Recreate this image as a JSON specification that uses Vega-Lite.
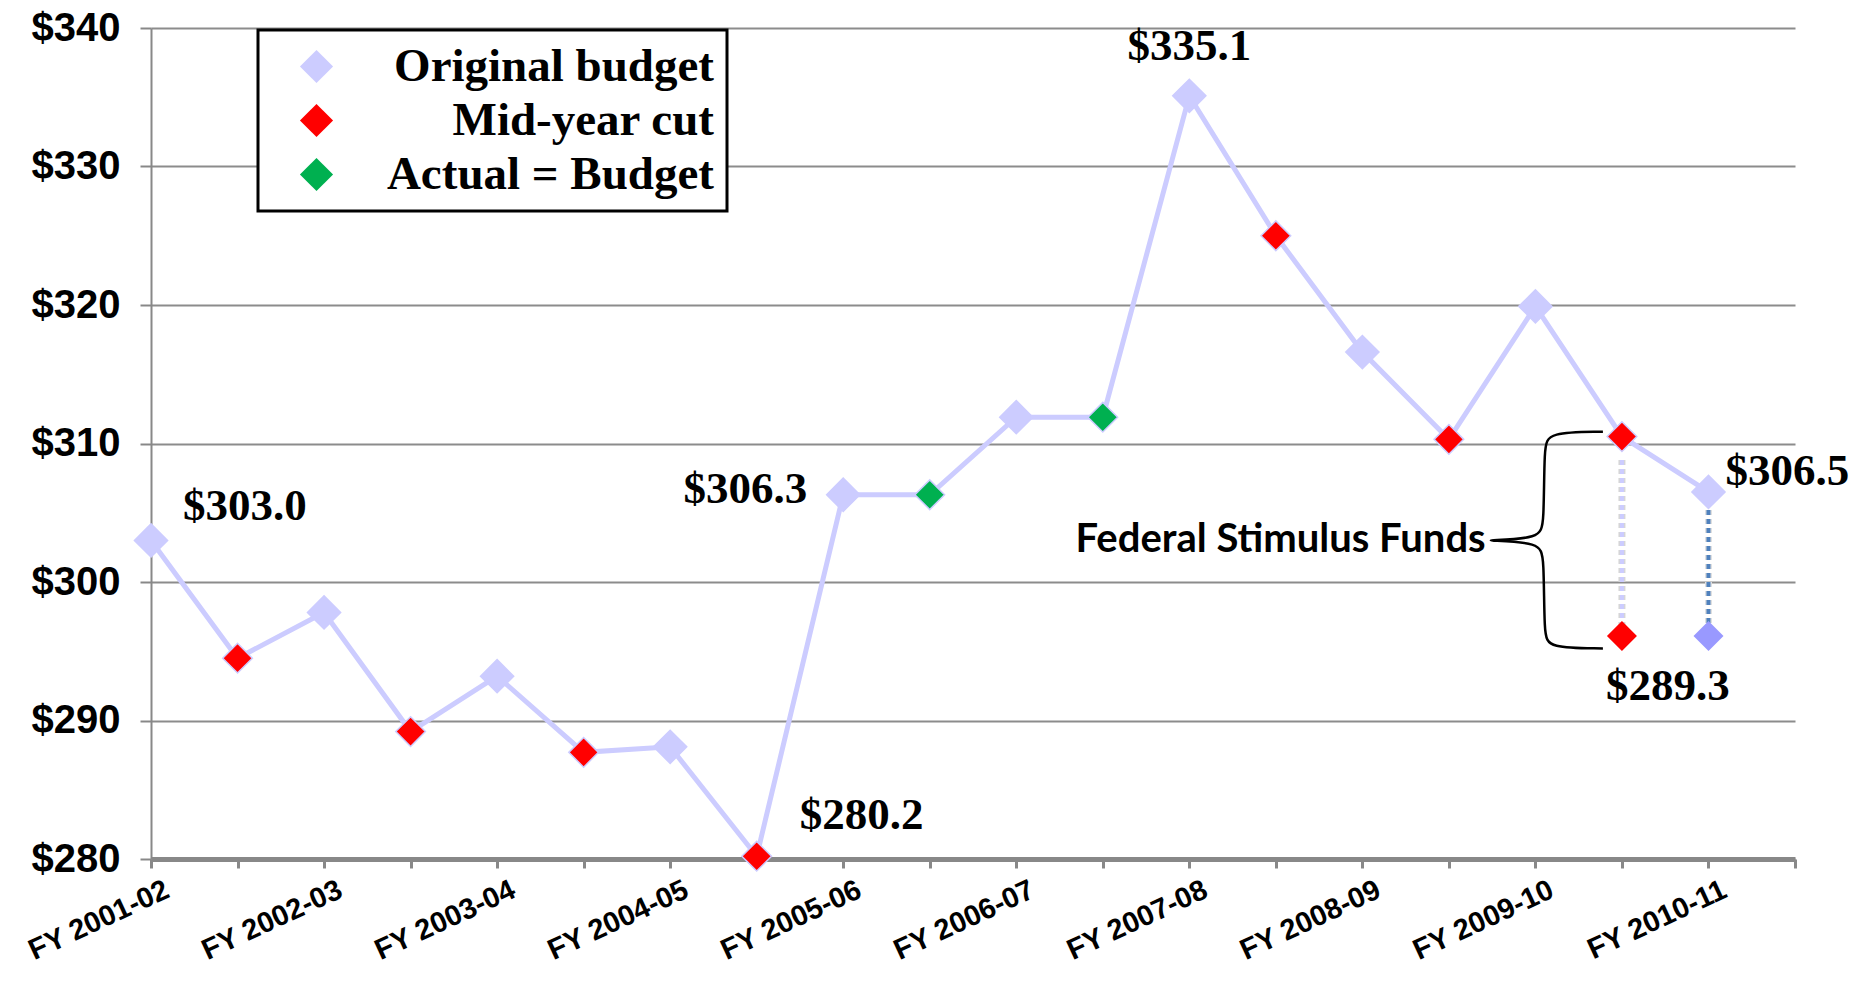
{
  "$schema": "https://vega.github.io/schema/vega-lite/v6.json",
  "width": 1644,
  "height": 831,
  "autosize": {"type": "none"},
  "padding": {"left": 151, "top": 28, "right": 60, "bottom": 125},
  "background": "white",
  "config": {
    "view": {"stroke": null},
    "legend": {"strokeWidth": 3}
  },
  "datasets": {
    "main": [
      {"pos": 1, "value": 303.0, "series": "Original budget"},
      {"pos": 2, "value": 294.5, "series": "Mid-year cut"},
      {"pos": 3, "value": 297.8, "series": "Original budget"},
      {"pos": 4, "value": 289.2, "series": "Mid-year cut"},
      {"pos": 5, "value": 293.2, "series": "Original budget"},
      {"pos": 6, "value": 287.7, "series": "Mid-year cut"},
      {"pos": 7, "value": 288.1, "series": "Original budget"},
      {"pos": 8, "value": 280.2, "series": "Mid-year cut"},
      {"pos": 9, "value": 306.3, "series": "Original budget"},
      {"pos": 10, "value": 306.3, "series": "Actual = Budget"},
      {"pos": 11, "value": 311.9, "series": "Original budget"},
      {"pos": 12, "value": 311.9, "series": "Actual = Budget"},
      {"pos": 13, "value": 335.1, "series": "Original budget"},
      {"pos": 14, "value": 325.0, "series": "Mid-year cut"},
      {"pos": 15, "value": 316.6, "series": "Original budget"},
      {"pos": 16, "value": 310.3, "series": "Mid-year cut"},
      {"pos": 17, "value": 319.9, "series": "Original budget"},
      {"pos": 18, "value": 310.5, "series": "Mid-year cut"},
      {"pos": 19, "value": 306.5, "series": "Original budget"}
    ],
    "stim": [
      {"pos": 18, "value": 296.1, "kind": "cut", "top": 308.8, "bottom": 296.9},
      {"pos": 19, "value": 296.1, "kind": "budget", "top": 305.2, "bottom": 297.0}
    ],
    "labels": [
      {"pos": 1, "value": 303.0, "label": "$303.0", "grp": "a"},
      {"pos": 8, "value": 280.2, "label": "$280.2", "grp": "b"},
      {"pos": 9, "value": 306.3, "label": "$306.3", "grp": "c"},
      {"pos": 13, "value": 335.1, "label": "$335.1", "grp": "d"},
      {"pos": 19, "value": 306.5, "label": "$306.5", "grp": "e"},
      {"pos": 18, "value": 296.1, "label": "$289.3", "grp": "f"}
    ],
    "brace": [
      {"o": 1, "bx": 17.78, "by": 310.85},
      {"o": 2, "bx": 17.15, "by": 310.8},
      {"o": 3, "bx": 17.1, "by": 309.8},
      {"o": 4, "bx": 17.1, "by": 304.2},
      {"o": 5, "bx": 17.05, "by": 303.15},
      {"o": 6, "bx": 16.46, "by": 303.0},
      {"o": 7, "bx": 16.46, "by": 303.0},
      {"o": 8, "bx": 17.05, "by": 302.85},
      {"o": 9, "bx": 17.1, "by": 301.8},
      {"o": 10, "bx": 17.1, "by": 296.2},
      {"o": 11, "bx": 17.15, "by": 295.25},
      {"o": 12, "bx": 17.78, "by": 295.2}
    ],
    "note": [
      {"pos": 16.46, "value": 303.0, "label": "Federal Stimulus Funds"}
    ]
  },
  "encoding": {
    "x": {
      "field": "pos", "type": "quantitative",
      "scale": {"domain": [1, 20], "nice": false, "zero": false},
      "axis": {
        "values": [1,2,3,4,5,6,7,8,9,10,11,12,13,14,15,16,17,18,19,20],
        "labelExpr": "['', 'FY 2001-02', '', 'FY 2002-03', '', 'FY 2003-04', '', 'FY 2004-05', '', 'FY 2005-06', '', 'FY 2006-07', '', 'FY 2007-08', '', 'FY 2008-09', '', 'FY 2009-10', '', 'FY 2010-11', ''][datum.value]",
        "labelAngle": -25,
        "labelAlign": "right",
        "labelBaseline": "top",
        "labelFont": "Liberation Sans",
        "labelFontWeight": "bold",
        "labelFontSize": 29,
        "labelColor": "black",
        "labelPadding": 7,
        "labelOffset": 10,
        "labelOverlap": false,
        "labelBound": false,
        "labelFlush": false,
        "domainColor": "#888888",
        "domainWidth": 5,
        "tickColor": "#888888",
        "tickWidth": 3,
        "tickSize": 9,
        "grid": false,
        "title": null
      }
    },
    "y": {
      "field": "value", "type": "quantitative",
      "scale": {"domain": [280, 340], "nice": false, "zero": false},
      "axis": {
        "values": [280, 290, 300, 310, 320, 330, 340],
        "labelExpr": "'$' + datum.value",
        "labelFont": "Liberation Sans",
        "labelFontWeight": "bold",
        "labelFontSize": 40,
        "labelColor": "black",
        "labelPadding": 20,
        "domainColor": "#888888",
        "domainWidth": 2,
        "tickColor": "#888888",
        "tickWidth": 2,
        "tickSize": 11,
        "grid": true,
        "gridColor": "#8c8c8c",
        "gridWidth": 2,
        "title": null
      }
    }
  },
  "layer": [
    {
      "data": {"name": "stim"},
      "transform": [{"filter": "datum.kind == 'cut'"}],
      "mark": {"type": "rule", "color": "#d6d6d6", "strokeWidth": 7, "strokeDash": [5, 4]},
      "encoding": {"y": {"field": "top", "type": "quantitative"}, "y2": {"field": "bottom"}}
    },
    {
      "data": {"name": "stim"},
      "transform": [{"filter": "datum.kind == 'cut'"}],
      "mark": {"type": "rule", "color": "#CCCCFF", "strokeWidth": 4, "strokeDash": [5, 4]},
      "encoding": {"y": {"field": "top", "type": "quantitative"}, "y2": {"field": "bottom"}}
    },
    {
      "data": {"name": "stim"},
      "transform": [{"filter": "datum.kind == 'budget'"}],
      "mark": {"type": "rule", "color": "#e0e0e0", "strokeWidth": 7, "strokeDash": [5, 4]},
      "encoding": {"y": {"field": "top", "type": "quantitative"}, "y2": {"field": "bottom"}}
    },
    {
      "data": {"name": "stim"},
      "transform": [{"filter": "datum.kind == 'budget'"}],
      "mark": {"type": "rule", "color": "#4F81BD", "strokeWidth": 4, "strokeDash": [5, 4]},
      "encoding": {"y": {"field": "top", "type": "quantitative"}, "y2": {"field": "bottom"}}
    },
    {
      "data": {"name": "main"},
      "mark": {"type": "line", "color": "#CCCCFF", "strokeWidth": 5},
      "encoding": {"order": {"field": "pos", "type": "quantitative"}}
    },
    {
      "data": {"name": "main"},
      "mark": {"type": "point", "shape": "diamond", "filled": true, "opacity": 1, "stroke": "#CCCCFF", "strokeWidth": 1.5},
      "encoding": {
        "fill": {
          "field": "series", "type": "nominal",
          "scale": {"domain": ["Original budget", "Mid-year cut", "Actual = Budget"], "range": ["#CCCCFF", "#FF0000", "#00B050"]},
          "legend": {
            "title": null,
            "orient": "none",
            "legendX": 107,
            "legendY": 2,
            "symbolType": "diamond",
            "symbolSize": 1100,
            "symbolStrokeWidth": 0,
            "symbolOffset": 22,
            "labelFont": "Liberation Serif",
            "labelFontWeight": "bold",
            "labelFontSize": 47,
            "labelColor": "black",
            "labelAlign": "right",
            "labelOffset": 374,
            "labelLimit": 500,
            "rowPadding": 6,
            "padding": 13,
            "strokeColor": "black",
            "fillColor": "white"
          }
        },
        "size": {"condition": {"test": "datum.series == 'Original budget'", "value": 1100}, "value": 880}
      }
    },
    {
      "data": {"name": "stim"},
      "mark": {"type": "point", "shape": "diamond", "filled": true, "opacity": 1, "size": 900},
      "encoding": {
        "fill": {"condition": {"test": "datum.kind == 'cut'", "value": "#FF0000"}, "value": "#9999FF"}
      }
    },
    {
      "data": {"name": "brace"},
      "mark": {"type": "line", "color": "black", "strokeWidth": 2.5, "interpolate": "basis"},
      "encoding": {
        "x": {"field": "bx", "type": "quantitative"},
        "y": {"field": "by", "type": "quantitative"},
        "order": {"field": "o", "type": "quantitative"}
      }
    },
    {
      "data": {"name": "note"},
      "mark": {"type": "text", "align": "right", "baseline": "middle", "dx": -3, "font": "Lato", "fontWeight": "bold", "fontSize": 40, "color": "black"},
      "encoding": {"text": {"field": "label"}}
    },
    {
      "data": {"name": "labels"},
      "transform": [{"filter": "datum.grp == 'a'"}],
      "mark": {"type": "text", "align": "left", "baseline": "middle", "dx": 32, "dy": -34, "font": "Liberation Serif", "fontWeight": "bold", "fontSize": 45, "color": "black"},
      "encoding": {"text": {"field": "label"}}
    },
    {
      "data": {"name": "labels"},
      "transform": [{"filter": "datum.grp == 'b'"}],
      "mark": {"type": "text", "align": "left", "baseline": "middle", "dx": 43, "dy": -41, "font": "Liberation Serif", "fontWeight": "bold", "fontSize": 45, "color": "black"},
      "encoding": {"text": {"field": "label"}}
    },
    {
      "data": {"name": "labels"},
      "transform": [{"filter": "datum.grp == 'c'"}],
      "mark": {"type": "text", "align": "right", "baseline": "middle", "dx": -36, "dy": -6, "font": "Liberation Serif", "fontWeight": "bold", "fontSize": 45, "color": "black"},
      "encoding": {"text": {"field": "label"}}
    },
    {
      "data": {"name": "labels"},
      "transform": [{"filter": "datum.grp == 'd'"}],
      "mark": {"type": "text", "align": "center", "baseline": "middle", "dx": 0, "dy": -50, "font": "Liberation Serif", "fontWeight": "bold", "fontSize": 45, "color": "black"},
      "encoding": {"text": {"field": "label"}}
    },
    {
      "data": {"name": "labels"},
      "transform": [{"filter": "datum.grp == 'e'"}],
      "mark": {"type": "text", "align": "left", "baseline": "middle", "dx": 17, "dy": -21, "font": "Liberation Serif", "fontWeight": "bold", "fontSize": 45, "color": "black"},
      "encoding": {"text": {"field": "label"}}
    },
    {
      "data": {"name": "labels"},
      "transform": [{"filter": "datum.grp == 'f'"}],
      "mark": {"type": "text", "align": "center", "baseline": "middle", "dx": 46, "dy": 50, "font": "Liberation Serif", "fontWeight": "bold", "fontSize": 45, "color": "black"},
      "encoding": {"text": {"field": "label"}}
    }
  ]
}
